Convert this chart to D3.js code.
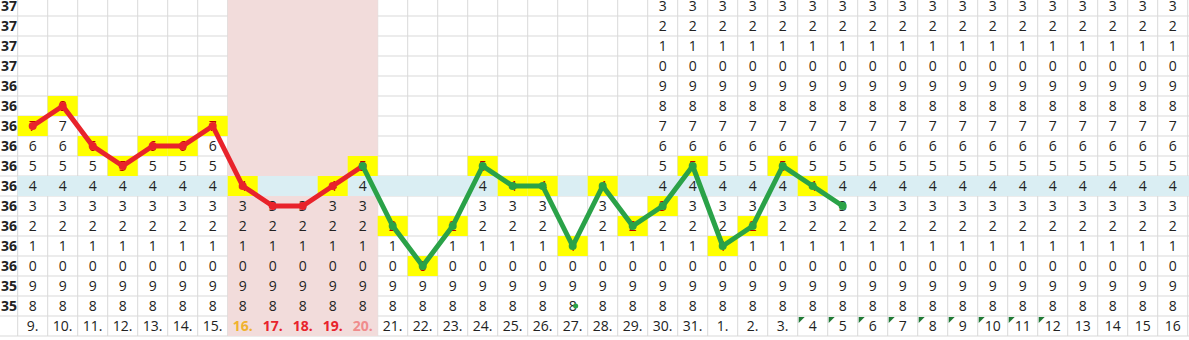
<!DOCTYPE html>
<html>
<head>
<meta charset="utf-8">
<script src="https://cdn.jsdelivr.net/npm/d3@7"></script>
<style>
  body { margin: 0; background: #fff; }
  svg { display: block; font-family: "Open Sans", sans-serif; }
</style>
</head>
<body>
<div id="chart"></div>
<script>
// temperature chart laid out like a spreadsheet: one column per day, one row per 0.1 degree

const dates = ["9.", "10.", "11.", "12.", "13.", "14.", "15.", "16.", "17.", "18.", "19.", "20.",
  "21.", "22.", "23.", "24.", "25.", "26.", "27.", "28.", "29.", "30.", "31.",
  "1.", "2.", "3.", "4", "5", "6", "7", "8", "9", "10", "11", "12", "13", "14", "15", "16"];

// measured temperature per day (only the first 28 days have one)
const temps = [36.7, 36.8, 36.6, 36.5, 36.6, 36.6, 36.7, 36.4, 36.3, 36.3, 36.4, 36.5,
  36.2, 36.0, 36.2, 36.5, 36.4, 36.4, 36.1, 36.4, 36.2, 36.3, 36.5,
  36.1, 36.2, 36.5, 36.4, 36.3];

// 1 = the cell of the measured value is highlighted yellow
const highlighted = [1, 1, 1, 1, 1, 1, 1, 1, 0, 0, 1, 1,
  1, 1, 1, 1, 1, 1, 1, 1, 1, 1, 1,
  1, 1, 1, 1, 0];

const rowTemps = [37.3, 37.2, 37.1, 37.0, 36.9, 36.8, 36.7, 36.6, 36.5, 36.4, 36.3, 36.2, 36.1, 36.0, 35.9, 35.8];
const rowLabels = ["37", "37", "37", "37", "36", "36", "36", "36", "36", "36", "36", "36", "36", "36", "35", "35"];
const rowDigits = ["3", "2", "1", "0", "9", "8", "7", "6", "5", "4", "3", "2", "1", "0", "9", "8"];

const baseTemp = 36.4;                          // light blue row
const periodDays = ["16.", "17.", "18.", "19.", "20."]; // pink columns
const firstPhase = ["9.", "10.", "11.", "12.", "13.", "14.", "15.", "16.", "17.", "18.", "19.", "20."];
const secondPhase = ["20.", "21.", "22.", "23.", "24.", "25.", "26.", "27.", "28.", "29.", "30.", "31.",
  "1.", "2.", "3.", "4", "5"];
const fullFrom = "30.";                         // from here every digit of the column is written
const textDays = ["4", "5", "6", "7", "8", "9", "10", "11", "12"]; // cells with the green corner flag
const dayColors = { "16.": "#f0b22e", "17.": "#e8232b", "18.": "#e8232b", "19.": "#e8232b", "20.": "#f08c8c" };
const strayDay = "27.", strayTemp = 35.8;

const width = 1189, height = 340;
const gridLeft = 17.7, gridTop = -4, rowH = 20;

const svg = d3.select("#chart").append("svg")
  .attr("width", width).attr("height", height);

const key = t => t.toFixed(1);
const tempOf = d => temps[dates.indexOf(d)];

const x = d3.scaleBand().domain(dates).range([gridLeft, gridLeft + 30 * dates.length]);
const y = d3.scaleBand().domain(rowTemps.map(key)).range([gridTop, gridTop + rowH * rowTemps.length]);
const cx = d => x(d) + x.bandwidth() / 2;
const cy = t => y(key(t)) + y.bandwidth() / 2;
const dateY = gridTop + rowH * rowTemps.length;   // top of the date row
const bottom = dateY + rowH;

// gridlines
const grid = svg.append("g").attr("stroke", "#d9d9d9").attr("stroke-width", 1);
grid.selectAll("line.v")
  .data(d3.range(dates.length + 1))
  .enter().append("line")
  .attr("x1", i => gridLeft + i * x.bandwidth()).attr("x2", i => gridLeft + i * x.bandwidth())
  .attr("y1", 0).attr("y2", bottom);
grid.selectAll("line.h")
  .data(d3.range(1, rowTemps.length + 2))
  .enter().append("line")
  .attr("x1", 0).attr("x2", width)
  .attr("y1", i => gridTop + i * rowH).attr("y2", i => gridTop + i * rowH);

// pink period columns and the blue base row
const pinkX = x(periodDays[0]), pinkW = x.bandwidth() * periodDays.length;
svg.append("rect")
  .attr("x", pinkX).attr("y", 0)
  .attr("width", pinkW).attr("height", bottom)
  .attr("fill", "#f2dcdb");
svg.append("rect")
  .attr("x", gridLeft).attr("y", y(key(baseTemp)))
  .attr("width", width - gridLeft).attr("height", y.bandwidth())
  .attr("fill", "#daeef3");

// yellow cells of the measured values
const measured = temps.map((t, i) => ({ day: dates[i], t, hl: highlighted[i] }));
svg.selectAll("rect.hl")
  .data(measured.filter(d => d.hl))
  .enter().append("rect")
  .attr("x", d => x(d.day)).attr("y", d => y(key(d.t)))
  .attr("width", x.bandwidth()).attr("height", y.bandwidth())
  .attr("fill", "#ffff00");

// row labels
svg.append("g").selectAll("text")
  .data(rowTemps)
  .enter().append("text")
  .attr("x", 9).attr("y", t => cy(t) + 5)
  .attr("text-anchor", "middle")
  .attr("font-size", 14).attr("font-weight", "bold").attr("fill", "#222")
  .text((t, i) => rowLabels[i]);

// digits in the cells
const fullIdx = dates.indexOf(fullFrom);
const cells = [];
dates.forEach((d, k) => {
  rowTemps.forEach((t, r) => {
    const m = temps[k];
    if (k >= fullIdx || (m !== undefined && t <= m + 1e-9)) {
      const hl = m !== undefined && Math.abs(t - m) < 1e-9 && highlighted[k];
      cells.push({ day: d, t, digit: rowDigits[r], hl });
    }
  });
});
svg.append("g").selectAll("text")
  .data(cells)
  .enter().append("text")
  .attr("x", d => cx(d.day)).attr("y", d => cy(d.t) + 5)
  .attr("text-anchor", "middle")
  .attr("font-size", 14)
  .attr("fill", d => d.hl ? "#c00000" : "#222")
  .text(d => d.digit);

// date row
svg.append("g").selectAll("text")
  .data(dates)
  .enter().append("text")
  .attr("x", cx).attr("y", dateY + 15)
  .attr("text-anchor", "middle")
  .attr("font-size", 14)
  .attr("font-weight", d => dayColors[d] ? "bold" : "normal")
  .attr("fill", d => dayColors[d] || "#222")
  .text(d => d);

svg.append("g").selectAll("path")
  .data(textDays)
  .enter().append("path")
  .attr("d", d => `M${x(d) + 1},${dateY + 1}h6l-6,6z`)
  .attr("fill", "#1f7a35");

// the two curves
const line = d3.line().x(cx).y(d => cy(tempOf(d)));
const drawPhase = (days, color) => {
  svg.append("path")
    .datum(days)
    .attr("d", line)
    .attr("fill", "none")
    .attr("stroke", color).attr("stroke-width", 5)
    .attr("stroke-linejoin", "round").attr("stroke-linecap", "round");
  svg.append("g").selectAll("circle")
    .data(days)
    .enter().append("circle")
    .attr("cx", cx).attr("cy", d => cy(tempOf(d)))
    .attr("r", 4).attr("fill", color);
};
drawPhase(firstPhase, "#e8232b");
drawPhase(secondPhase, "#2aa248");

svg.append("circle")
  .attr("cx", cx(strayDay) + 3).attr("cy", cy(strayTemp))
  .attr("r", 2.5).attr("fill", "#2aa248");
</script>
</body>
</html>
